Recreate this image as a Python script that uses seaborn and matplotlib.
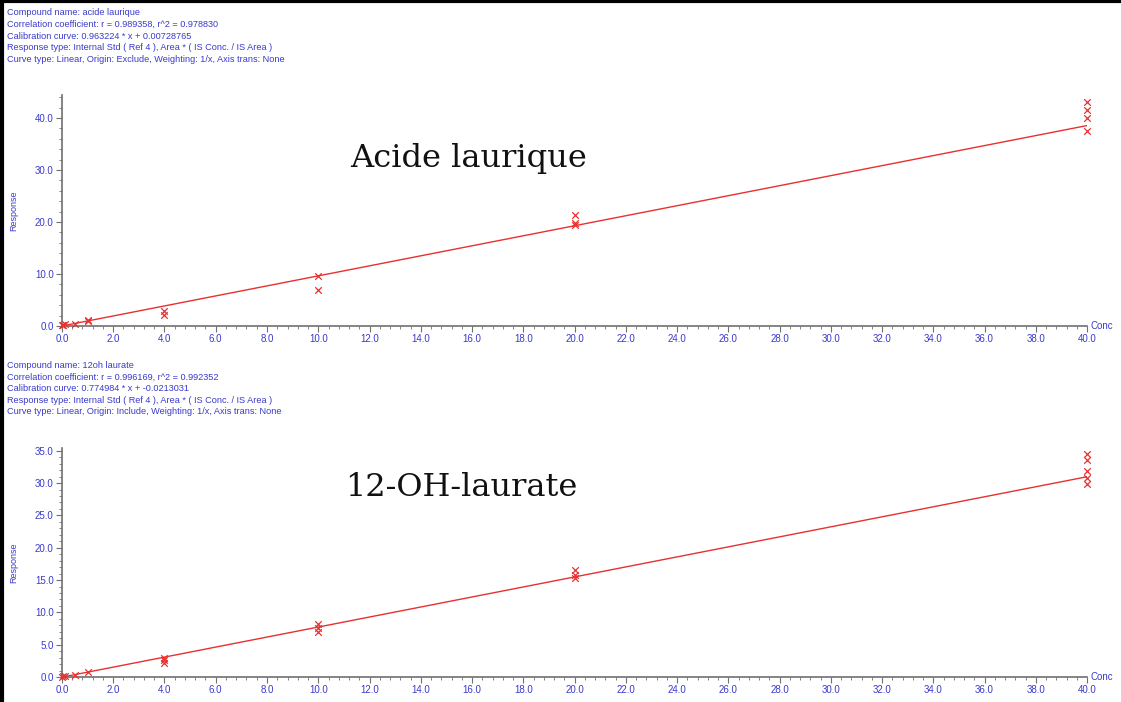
import numpy as np
import pandas as pd
import matplotlib.pyplot as plt
import seaborn as sns
from matplotlib.ticker import MultipleLocator, FormatStrFormatter
from matplotlib.lines import Line2D

# calibration points
top_conc = [0.0, 0.05, 0.1, 0.5, 1.0, 1.0, 4.0, 4.0, 10.0, 10.0, 20.0, 20.0, 20.0, 40.0, 40.0, 40.0, 40.0]
top_resp = [0.1, 0.2, 0.3, 0.4, 0.9, 1.1, 2.2, 2.8, 7.0, 9.7, 19.5, 19.8, 21.3, 37.5, 40.0, 41.6, 43.0]
bottom_conc = [0.0, 0.05, 0.1, 0.5, 1.0, 4.0, 4.0, 4.0, 10.0, 10.0, 10.0, 20.0, 20.0, 20.0, 40.0, 40.0, 40.0, 40.0, 40.0]
bottom_resp = [0.0, 0.1, 0.1, 0.3, 0.7, 2.2, 2.6, 2.9, 7.0, 7.6, 8.2, 15.3, 15.8, 16.5, 29.8, 30.8, 31.8, 33.5, 34.5]

# fitted curves from the header text
fit_x = [0.0, 40.0]
top_fit = [0.0073, 38.536]
bottom_fit = [-0.0213, 30.978]

top_header = [
    "Compound name: acide laurique",
    "Correlation coefficient: r = 0.989358, r^2 = 0.978830",
    "Calibration curve: 0.963224 * x + 0.00728765",
    "Response type: Internal Std ( Ref 4 ), Area * ( IS Conc. / IS Area )",
    "Curve type: Linear, Origin: Exclude, Weighting: 1/x, Axis trans: None",
]
bottom_header = [
    "Compound name: 12oh laurate",
    "Correlation coefficient: r = 0.996169, r^2 = 0.992352",
    "Calibration curve: 0.774984 * x + -0.0213031",
    "Response type: Internal Std ( Ref 4 ), Area * ( IS Conc. / IS Area )",
    "Curve type: Linear, Origin: Include, Weighting: 1/x, Axis trans: None",
]

sns.set_style("white")
plt.rcParams['font.family'] = ['Liberation Sans', 'DejaVu Sans']

blue = "#3a3acc"
red = "#e83030"

fig = plt.figure(figsize=(11.21, 7.02), dpi=100)

panels = [
    (top_conc, top_resp, top_fit, top_header, "Acide laurique", [0.0553, 0.5356, 0.9144, 0.329], 44.4, 10, 2, (0.397, 0.727)),
    (bottom_conc, bottom_resp, bottom_fit, bottom_header, "12-OH-laurate", [0.0553, 0.0356, 0.9144, 0.326], 35.4, 5, 1, (0.39, 0.83)),
]

header_tops = [0.988, 0.486]

for (cx, cy, fy, header, name, rect, ytop, ymaj, ymin, npos), htop in zip(panels, header_tops):
    ax = fig.add_axes(rect)
    df = pd.DataFrame({'Conc': cx, 'Response': cy})
    fit_df = pd.DataFrame({'Conc': fit_x, 'Response': fy})
    sns.lineplot(data=fit_df, x='Conc', y='Response', color=red, lw=1.0, ax=ax)
    sns.scatterplot(data=df, x='Conc', y='Response', marker='x', color=red, s=22,
                    linewidth=0.9, ax=ax, clip_on=False, zorder=3)
    ax.set_xlim(0, 40)
    ax.set_ylim(0, ytop)
    for s in ['top', 'right']:
        ax.spines[s].set_visible(False)
    for s in ['left', 'bottom']:
        ax.spines[s].set_color("#707070")
        ax.spines[s].set_linewidth(1.2)
    ax.xaxis.set_major_locator(MultipleLocator(2))
    ax.xaxis.set_minor_locator(MultipleLocator(0.4))
    ax.yaxis.set_major_locator(MultipleLocator(ymaj))
    ax.yaxis.set_minor_locator(MultipleLocator(ymin))
    ax.xaxis.set_major_formatter(FormatStrFormatter('%.1f'))
    ax.yaxis.set_major_formatter(FormatStrFormatter('%.1f'))
    ax.tick_params(axis='both', which='major', length=4, width=0.8, color="#707070",
                   labelsize=7, labelcolor=blue, pad=2, left=True, bottom=True)
    ax.tick_params(axis='both', which='minor', length=2, width=0.6, color="#707070",
                   left=True, bottom=True)
    ax.set_xlabel("")
    ax.set_ylabel("Response", color=blue, fontsize=6.5, labelpad=12)
    ax.text(1.003, 0.0, "Conc", transform=ax.transAxes, color=blue, fontsize=7,
            ha='left', va='center')
    ax.text(npos[0], npos[1], name, transform=ax.transAxes,
            family=['DejaVu Serif'], fontsize=23, color="#111111",
            ha='center', va='center')
    for i, line in enumerate(header):
        fig.text(0.0065, htop - i * 0.0165, line, color=blue, fontsize=6.6, ha='left', va='top')

# screenshot frame on the left and top
fig.add_artist(Line2D([0.002, 0.002], [0, 1], transform=fig.transFigure, color='black', lw=3))
fig.add_artist(Line2D([0, 1], [0.998, 0.998], transform=fig.transFigure, color='black', lw=3))

fig.savefig("out.png", dpi=100)
plt.close(fig)
